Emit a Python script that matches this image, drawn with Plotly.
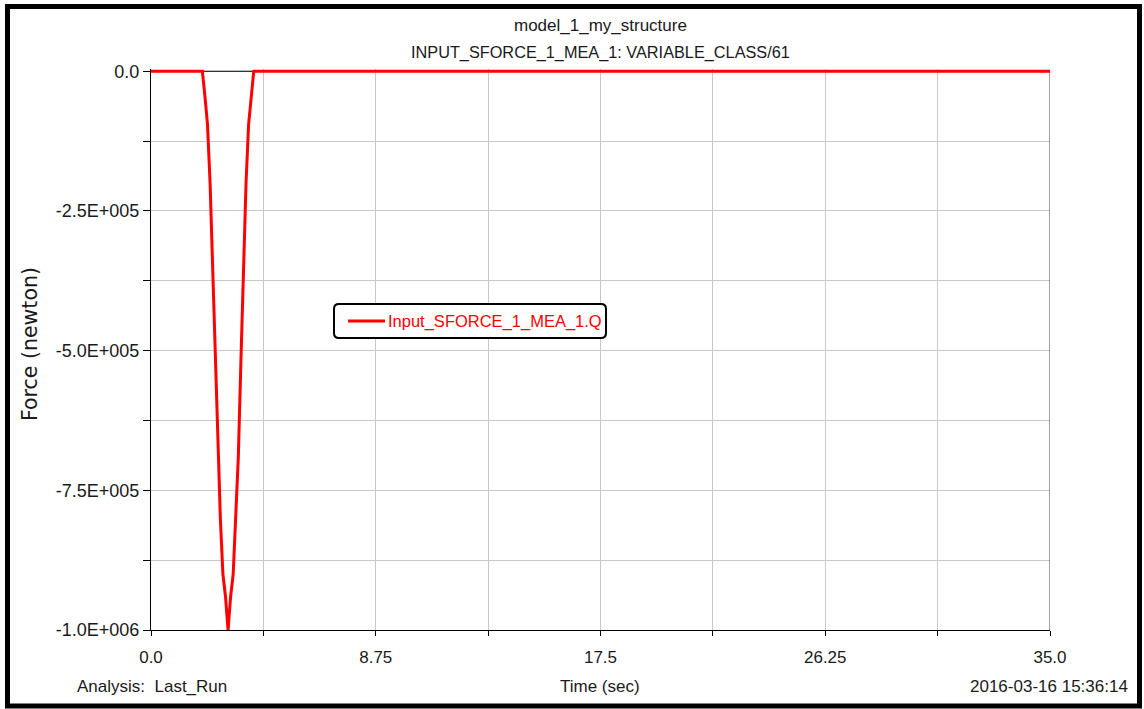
import plotly.graph_objects as go

# ---- data ----
time_s = [0.0, 2.0, 2.1, 2.2, 2.3, 2.4, 2.5, 2.6, 2.7, 2.8, 2.9, 3.0,
          3.1, 3.2, 3.3, 3.4, 3.5, 3.6, 3.7, 3.8, 3.9, 4.0, 35.0]
force_n = [0.0, 0.0, -4.5e4, -9.5e4, -2.0e5, -3.55e5, -5.2e5, -6.9e5, -8.0e5, -9.0e5, -9.4e5, -1.0e6,
           -9.4e5, -9.0e5, -8.0e5, -6.9e5, -5.2e5, -3.55e5, -2.0e5, -9.5e4, -4.5e4, 0.0, 0.0]

x_tickvals = [0.0, 4.375, 8.75, 13.125, 17.5, 21.875, 26.25, 30.625, 35.0]
x_ticktext = ["0.0", "", "8.75", "", "17.5", "", "26.25", "", "35.0"]
y_tickvals = [0.0, -1.25e5, -2.5e5, -3.75e5, -5.0e5, -6.25e5, -7.5e5, -8.75e5, -1.0e6]
y_ticktext = ["0.0", "", "-2.5E+005", "", "-5.0E+005", "", "-7.5E+005", "", "-1.0E+006"]

series_name = "Input_SFORCE_1_MEA_1.Q"
title_lines = ["model_1_my_structure", "INPUT_SFORCE_1_MEA_1: VARIABLE_CLASS/61"]

FONT = "Liberation Sans, Arial, sans-serif"
TXT = "#1a1a1a"
RED = "#ff0000"

fig = go.Figure()
fig.add_trace(go.Scatter(x=time_s, y=force_n, mode="lines", name=series_name,
                         line=dict(color=RED, width=3), showlegend=False))

W, H = 1144, 709
ml, mr, mt, mb = 151, 94, 69, 79
pw = W - ml - mr
ph = H - mt - mb

def px(xp):
    return (xp - ml) / pw

def py(yp):
    return (H - mb - yp) / ph

fig.update_layout(
    width=W, height=H,
    margin=dict(l=ml, r=mr, t=mt, b=mb, pad=0),
    paper_bgcolor="white", plot_bgcolor="white",
    font=dict(family=FONT, color=TXT, size=16),
    showlegend=False,
    xaxis=dict(range=[0, 35], tickmode="array", tickvals=x_tickvals, ticktext=x_ticktext,
               showgrid=True, gridcolor="#c8c8c8", gridwidth=1, zeroline=False,
               showline=True, linecolor="black", linewidth=1,
               ticks="outside", ticklen=5, tickcolor="black", tickwidth=1,
               tickfont=dict(family=FONT, size=17, color=TXT), ticklabelstandoff=7),
    yaxis=dict(range=[-1.0e6, 4000], tickmode="array", tickvals=y_tickvals, ticktext=y_ticktext,
               showgrid=True, gridcolor="#c8c8c8", gridwidth=1, zeroline=False,
               showline=True, linecolor="black", linewidth=1,
               ticks="outside", ticklen=7, tickcolor="black", tickwidth=1,
               tickfont=dict(family=FONT, size=18, color=TXT)),
)

# frame lines at top (y=0) and right (x=35)
fig.add_shape(type="line", xref="x", yref="y", x0=0, x1=35, y0=0, y1=0,
              line=dict(color="black", width=1), layer="between")
fig.add_shape(type="line", xref="x", yref="y", x0=35, x1=35, y0=-1.0e6, y1=0,
              line=dict(color="#444444", width=1), layer="between")
# outer border of the picture
fig.add_shape(type="rect", xref="paper", yref="paper",
              x0=px(7.5), x1=px(1139.5), y0=py(6.5), y1=py(706),
              line=dict(color="black", width=5), fillcolor="rgba(0,0,0,0)", layer="above")

# legend box (rounded rectangle), sample line and label
lx0, lx1, ly0, ly1, r = 334, 606, 304, 338, 5
def P(x, y):
    return f"{px(x):.6f},{py(y):.6f}"
path = (f"M {P(lx0 + r, ly0)} L {P(lx1 - r, ly0)} Q {P(lx1, ly0)} {P(lx1, ly0 + r)} "
        f"L {P(lx1, ly1 - r)} Q {P(lx1, ly1)} {P(lx1 - r, ly1)} "
        f"L {P(lx0 + r, ly1)} Q {P(lx0, ly1)} {P(lx0, ly1 - r)} "
        f"L {P(lx0, ly0 + r)} Q {P(lx0, ly0)} {P(lx0 + r, ly0)} Z")
fig.add_shape(type="path", xref="paper", yref="paper", path=path,
              line=dict(color="black", width=2), fillcolor="white", layer="above")
fig.add_shape(type="line", xref="paper", yref="paper", x0=px(348), x1=px(385), y0=py(321), y1=py(321),
              line=dict(color=RED, width=3), layer="above")
fig.add_annotation(text=series_name, xref="paper", yref="paper", x=px(386), y=py(321),
                   showarrow=False, xanchor="left", yanchor="middle",
                   font=dict(family=FONT, size=16.5, color=RED))

# titles
fig.add_annotation(text=title_lines[0], xref="paper", yref="paper", x=px(600), y=py(26),
                   showarrow=False, xanchor="center", yanchor="middle",
                   font=dict(family=FONT, size=17, color=TXT))
fig.add_annotation(text=title_lines[1], xref="paper", yref="paper", x=px(600), y=py(52),
                   showarrow=False, xanchor="center", yanchor="middle",
                   font=dict(family=FONT, size=16.3, color=TXT))
# axis titles / footer
fig.add_annotation(text="Force (newton)", xref="paper", yref="paper", x=px(30), y=py(344),
                   showarrow=False, xanchor="center", yanchor="middle", textangle=-90,
                   font=dict(family="DejaVu Sans, sans-serif", size=20.5, color=TXT))
fig.add_annotation(text="Time (sec)", xref="paper", yref="paper", x=px(600), y=py(686),
                   showarrow=False, xanchor="center", yanchor="middle",
                   font=dict(family=FONT, size=17, color=TXT))
fig.add_annotation(text="Analysis:&nbsp;&nbsp;Last_Run", xref="paper", yref="paper", x=px(75), y=py(686),
                   showarrow=False, xanchor="left", yanchor="middle",
                   font=dict(family=FONT, size=17, color=TXT))
fig.add_annotation(text="2016-03-16 15:36:14", xref="paper", yref="paper", x=px(1130), y=py(686),
                   showarrow=False, xanchor="right", yanchor="middle",
                   font=dict(family=FONT, size=17, color=TXT))

fig.write_html("out.html")
